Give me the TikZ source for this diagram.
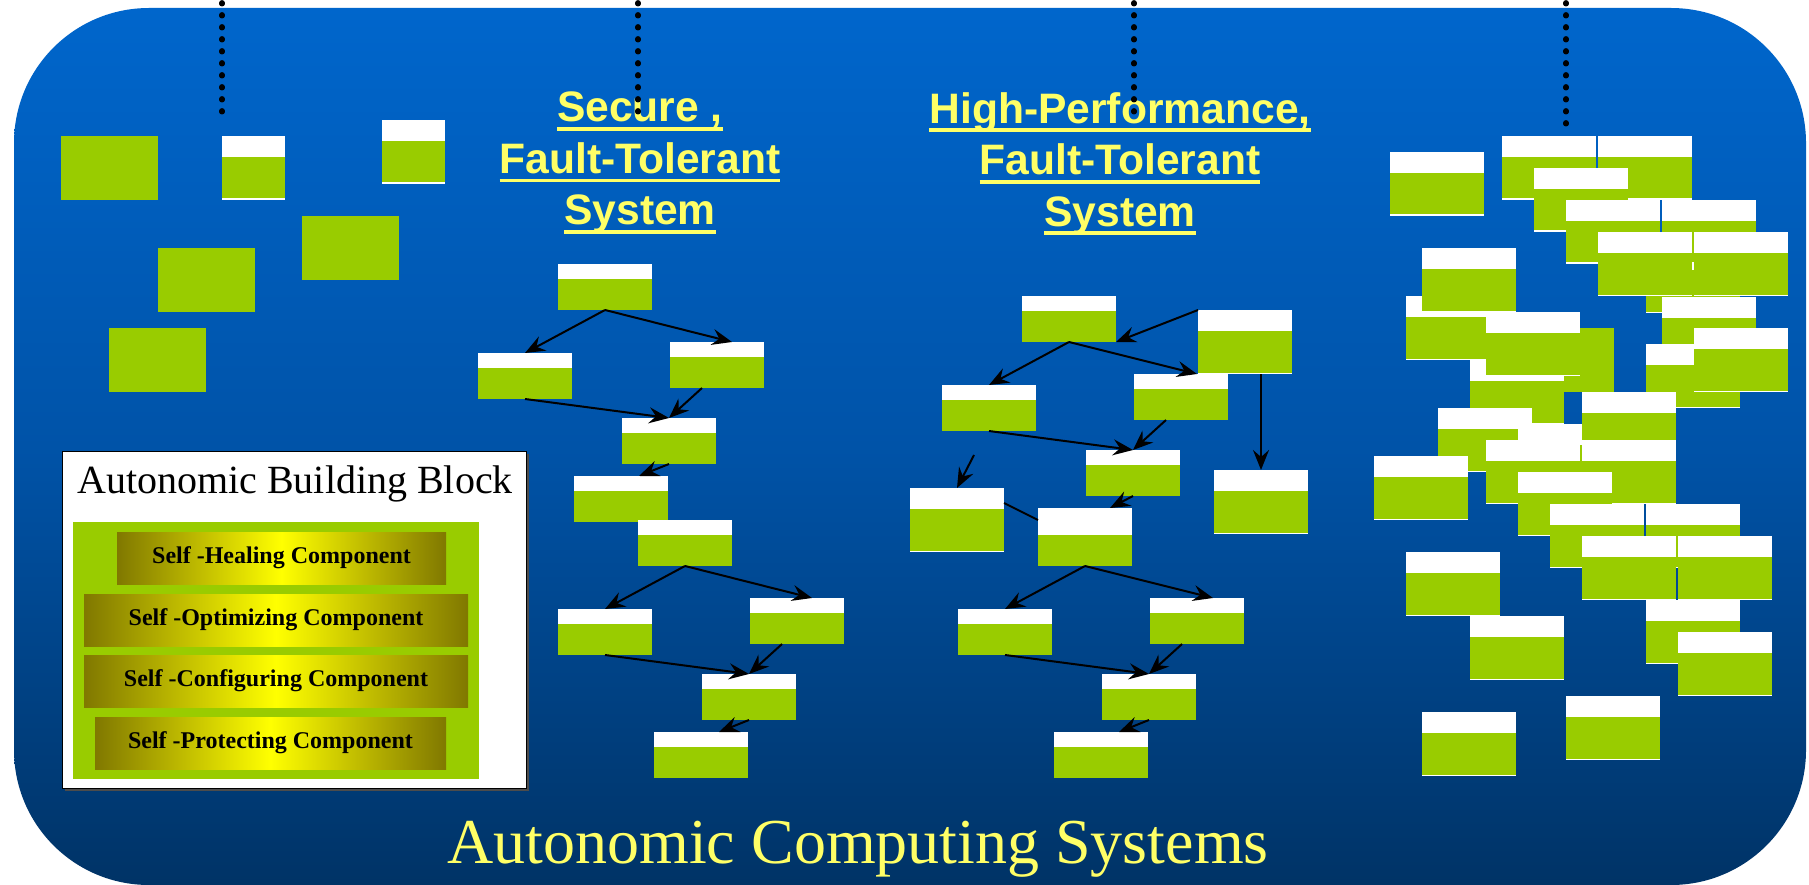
\documentclass[tikz,border=0pt]{standalone}
\usepackage{fontspec}
\setmainfont{Liberation Serif}
\newfontfamily\headfont{Liberation Sans}
\usetikzlibrary{arrows.meta,calc,shadows}
\definecolor{Leaf}{HTML}{99CC00}
\definecolor{Sky}{HTML}{0066CC}
\definecolor{Mid}{HTML}{0053A8}
\definecolor{Deep}{HTML}{003366}
\definecolor{Lemon}{HTML}{FFFF66}
\definecolor{Olive}{HTML}{807800}
\definecolor{Gold}{HTML}{FFFF00}
\newcommand\ulined[1]{\setbox0\hbox{#1}\rlap{\rule[-9pt]{\wd0}{3.6pt}}\box0}
\tikzset{
  box/.style={rectangle,inner sep=0pt,outer sep=0pt,fill=Leaf,minimum width=94pt},
  headed/.style={path picture={
      \fill[white] (path picture bounding box.north west) rectangle
        ($(path picture bounding box.north east)!#1!(path picture bounding box.south east)$);}},
  unit/.style={box,minimum height=#1,headed=.33},
  unit/.default=46pt,
  cell/.style={box,minimum height=64pt,path picture={
      \fill[white] (path picture bounding box.north west) rectangle
        ($(path picture bounding box.north east)!.33!(path picture bounding box.south east)$);
      \fill[white] ([yshift=1.5pt]path picture bounding box.south west) rectangle
        (path picture bounding box.south east);}},
  block/.style={box,minimum width=97pt,minimum height=64pt},
  link/.style={-{Stealth[length=20pt,width=16pt,inset=7pt]},line width=2pt,black},
  dots/.style={line width=5.4pt,line cap=round,dash pattern=on 1pt off 11pt},
  title/.style={align=center,inner sep=0pt,text=Lemon,
    font=\headfont\bfseries\fontsize{42.6}{51.5}\selectfont},
  comp/.style={left color=Olive,right color=Olive,middle color=Gold,inner sep=0pt,
    minimum height=52pt,font=\bfseries\fontsize{24}{28}\selectfont}
}
\begin{document}
\begin{tikzpicture}[x=1pt,y=-1pt]
  \useasboundingbox (0,0) rectangle (1809,885);
  \fill[white] (0,0) rectangle (1809,885);
  \shade[top color=Sky,bottom color=Deep,middle color=Mid,rounded corners=135pt]
    (14,8) rectangle (1806,885);

  % loose blocks
  \node[block,anchor=north west] (b1) at (61,136) {};
  \node[cell,minimum width=63pt,anchor=north west] (b2) at (222,136) {};
  \node[cell,minimum width=63pt,anchor=north west] (b3) at (382,120) {};
  \node[block,anchor=north west] (b4) at (302,216) {};
  \node[block,anchor=north west] (b5) at (158,248) {};
  \node[block,anchor=north west] (b6) at (109,328) {};

  \node[title,anchor=north] (sft) at (640,92)
    {\ulined{Secure ,}\\\ulined{Fault-Tolerant}\\\ulined{System}};
  \node[title,anchor=north] (hpft) at (1120,92)
    {\ulined{High-Performance,}\\\ulined{Fault-Tolerant}\\\ulined{System}};

  % secure tree
  \foreach \n/\x/\y in {1/558/264,2/478/353,3/670/342,4/622/418,5/574/476,
      6/638/520,7/558/609,8/750/598,9/702/674,10/654/732}
    \node[unit,anchor=north west] (s\n) at (\x,\y) {};
  \draw[link] (s1.south) -- (s2.north);
  \draw[link] (s1.south) -- ([xshift=15pt]s3.north);
  \draw[link] (s2.south) -- (s4.north);
  \draw[link] ([xshift=-15pt]s3.south) -- (s4.north);
  \draw[link] (s4.south) -- ([xshift=18pt]s5.north);
  \draw[link] (s6.south) -- (s7.north);
  \draw[link] (s6.south) -- ([xshift=15pt]s8.north);
  \draw[link] (s7.south) -- (s9.north);
  \draw[link] ([xshift=-15pt]s8.south) -- (s9.north);
  \draw[link] (s9.south) -- ([xshift=18pt]s10.north);

  % high-performance tree
  \foreach \n/\x/\y in {1/1022/296,3/942/385,4/1134/374,5/1086/450,
      9/958/609,10/1150/598,11/1102/674,12/1054/732}
    \node[unit,anchor=north west] (h\n) at (\x,\y) {};
  \node[cell,anchor=north west] (h2) at (1198,310) {};
  \node[cell,anchor=north west] (h6) at (910,488) {};
  \node[unit=58pt,headed=.47,anchor=north west] (h7) at (1038,508) {};
  \node[cell,anchor=north west] (h8) at (1214,470) {};
  \coordinate (h6in) at (974,455);
  \draw[link] (h1.south) -- (h3.north);
  \draw[link] (h1.south) -- ([xshift=16pt]h4.north);
  \draw[link] (h2.north west) -- (h1.south east);
  \draw[link] (h8.north |- h2.south) -- (h8.north);
  \draw[link] (h3.south) -- (h5.north);
  \draw[link] ([xshift=-15pt]h4.south) -- (h5.north);
  \draw[link] (h6in) -- (h6.north);
  \draw[line width=2pt] ([yshift=-15pt]h6.north east) -- ([yshift=-12pt]h7.north west);
  \draw[link] (h5.south) -- ([xshift=25pt]h7.north);
  \draw[link] (h7.south) -- (h9.north);
  \draw[link] (h7.south) -- ([xshift=16pt]h10.north);
  \draw[link] (h9.south) -- (h11.north);
  \draw[link] ([xshift=-15pt]h10.south) -- (h11.north);
  \draw[link] (h11.south) -- ([xshift=18pt]h12.north);

  % unstructured cluster
  \node[block,minimum width=94pt,anchor=north west] (c0) at (1520,328) {};
  \foreach \n/\x/\y in {1/1390/152,2/1502/136,3/1598/136,4/1534/168,5/1646/249,
      6/1566/200,7/1662/200,8/1598/232,9/1694/232,10/1662/297,11/1646/344,
      12/1694/328,13/1470/360,14/1406/296,15/1422/248,16/1486/312,17/1438/408,
      18/1518/424,19/1582/392,20/1486/440,21/1582/440,22/1374/456,23/1518/472,
      24/1550/504,25/1646/504,26/1582/536,27/1678/536,28/1646/600,29/1678/632,
      30/1406/552,31/1470/616,32/1422/712,33/1566/696}
    \node[cell,anchor=north west] (c\n) at (\x,\y) {};

  % building block
  \node[fill=white,draw=black,line width=1pt,inner sep=0pt,
    drop shadow={shadow xshift=2pt,shadow yshift=-2pt,fill=black!70,opacity=1},
    minimum width=464pt,minimum height=337pt,anchor=north west] (abb) at (62,451) {};
  \node[anchor=base,font=\fontsize{40}{48}\selectfont] (abbname) at (295,493)
    {Autonomic Building Block};
  \node[box,minimum width=406pt,minimum height=257pt,anchor=north west] (core) at (73,522) {};
  \node[comp,minimum width=329pt] (heal) at (281.5,558) {Self -Healing Component};
  \node[comp,minimum width=384pt] (opt) at (276,620) {Self -Optimizing Component};
  \node[comp,minimum width=384pt] (conf) at (276,681) {Self -Configuring Component};
  \node[comp,minimum width=351pt] (prot) at (270.5,743) {Self -Protecting Component};

  \node[anchor=base,text=Lemon,font=\fontsize{64}{76}\selectfont] (acs) at (858,863)
    {Autonomic Computing Systems};

  \foreach \x/\y in {222/120,638/120,1134/120,1566/134}
    \draw[dots] (\x,2.8) -- (\x,\y);
\end{tikzpicture}
\end{document}
